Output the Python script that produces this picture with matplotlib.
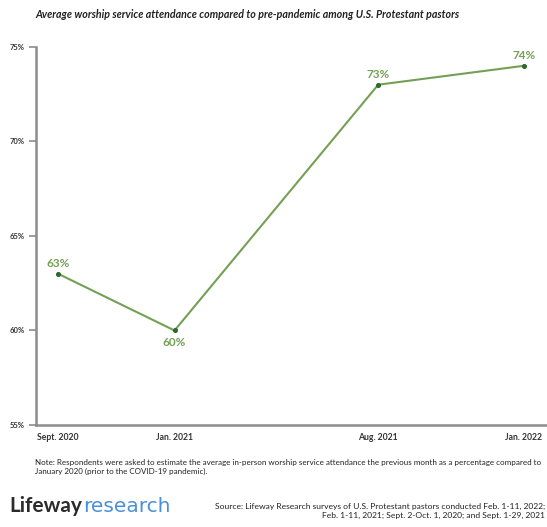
import matplotlib.pyplot as plt

# survey months, counted from Sept. 2020
periods = ["Sept. 2020", "Jan. 2021", "Aug. 2021", "Jan. 2022"]
months = [0, 4, 11, 16]
attendance = [63, 60, 73, 74]
label_above = [True, False, True, True]
y_ticks = [55, 60, 65, 70, 75]

green = "#74a055"
dark_green = "#2e6a2e"
gray = "#8c8c8c"

plt.rcParams["font.family"] = ["Lato", "DejaVu Sans"]

fig = plt.figure(figsize=(5.47, 5.27), dpi=100)
ax = fig.add_axes([0.066, 0.1935, 0.934, 0.7175])

ax.plot(months, attendance, color=green, lw=1.5, zorder=2)
ax.scatter(months, attendance, color=dark_green, s=7, zorder=3)
for m, v, up in zip(months, attendance, label_above):
    ax.annotate(f"{v}%", (m, v), xytext=(0, 3.5 if up else -5), textcoords="offset points",
                ha="center", va="bottom" if up else "top",
                fontsize=8.5, fontweight="bold", color=green)

ax.set_xlim(-0.757, 16.8)
ax.set_ylim(55, 75)
ax.set_yticks(y_ticks)
ax.set_yticklabels([f"{t}%" for t in y_ticks])
ax.set_xticks(months)
ax.set_xticklabels(periods)
ax.tick_params(axis="y", length=5, width=1.2, color=gray, labelsize=5.5, pad=3)
ax.tick_params(axis="x", length=0, labelsize=6.2, pad=6)
for lab in ax.get_xticklabels() + ax.get_yticklabels():
    lab.set_fontweight("bold")
    lab.set_color("#333333")
for s in ["top", "right"]:
    ax.spines[s].set_visible(False)
for s in ["left", "bottom"]:
    ax.spines[s].set_color(gray)
    ax.spines[s].set_linewidth(1.8)

fig.text(0.064, 0.972, "Average worship service attendance compared to pre-pandemic among U.S. Protestant pastors",
         fontsize=7.7, fontstyle="italic", fontweight="bold", color="#222222", va="center")

fig.text(0.064, 0.114, "Note: Respondents were asked to estimate the average in-person worship service attendance "
         "the previous month as a percentage compared to\nJanuary 2020 (prior to the COVID-19 pandemic).",
         fontsize=5.8, color="#222222", va="center", linespacing=1.3)

fig.text(0.018, 0.028, "Lifeway", fontsize=15, fontweight="bold", color="#2b2b2b", va="baseline")
fig.text(0.152, 0.028, "research", fontsize=14.5, fontweight="normal", color="#4a90d9", va="baseline",
         family="DejaVu Sans")

fig.text(0.997, 0.030, "Source: Lifeway Research surveys of U.S. Protestant pastors conducted Feb. 1-11, 2022;\n"
         "Feb. 1-11, 2021; Sept. 2-Oct. 1, 2020; and Sept. 1-29, 2021",
         fontsize=6.1, color="#222222", ha="right", va="center", linespacing=1.3)

fig.savefig("out.png", dpi=100)
